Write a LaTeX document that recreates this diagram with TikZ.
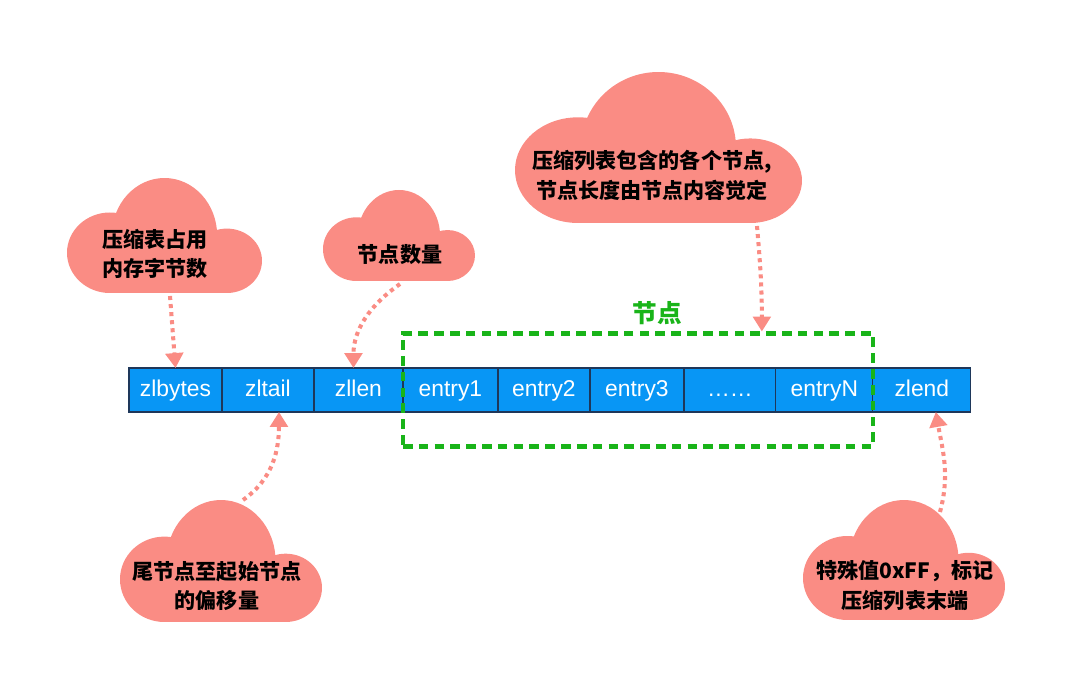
\documentclass[tikz,border=0pt]{standalone}
\usepackage{fontspec}
\setmainfont{Liberation Sans}
\newfontfamily\cjk{Noto Sans CJK SC}
\usetikzlibrary{positioning,fit,arrows.meta}

\definecolor{cellblue}{RGB}{8,150,245}
\definecolor{celledge}{RGB}{30,55,90}
\definecolor{cloudred}{RGB}{250,140,132}
\definecolor{nodegreen}{RGB}{25,180,25}

% cloud blob: lower left corner, width, height
\newcommand{\cloudat}[4]{%
  \begin{scope}[shift={(#1,#2)}, xscale=#3, yscale=#4]
    \fill[cloudred] (0.22,0.35) ellipse [x radius=0.22, y radius=0.35];
    \fill[cloudred] (0.5,0.5) ellipse [x radius=0.27, y radius=0.5];
    \fill[cloudred] (0.82,0.28) ellipse [x radius=0.18, y radius=0.28];
    \fill[cloudred] (0.2,0) rectangle (0.82,0.4);
  \end{scope}}

\begin{document}
\begin{tikzpicture}[x=0.02cm, y=0.02cm,
    cell/.style={draw=celledge, line width=0.7pt, fill=cellblue, text=white,
      font=\fontsize{13}{15}\selectfont, minimum width=#1, minimum height=0.88cm,
      text height=9.5pt, text depth=2.5pt, inner sep=0pt, outer sep=0pt},
    note/.style={align=center, font=\cjk\bfseries\fontsize{12}{17}\selectfont},
    hint/.style={draw=cloudred, line width=2.3pt, dash pattern=on 2.3pt off 2.3pt,
      -{Triangle[width=10pt,length=8.5pt]}}]
    \useasboundingbox (0,0) rectangle (1080,677);

    % clouds
    \cloudat{67}{384}{195}{115}
    \cloudat{323}{396}{152}{91}
    \cloudat{515}{454}{287}{151}
    \cloudat{120}{55}{202}{122}
    \cloudat{803}{57}{202}{120}
    \node[note] (bytesnote) at (155,423) {压缩表占用\\内存字节数};
    \node[note] (lennote) at (400,422) {节点数量};
    \node[note] (entrynote) at (652,502) {压缩列表包含的各个节点,\\节点长度由节点内容觉定};
    \node[note] (tailnote) at (217,91) {尾节点至起始节点\\的偏移量};
    \node[note] (endnote) at (905,91) {特殊值0xFF，标记\\压缩列表末端};

    % the list
    \node[cell=1.86cm, anchor=west] (zlbytes) at (129,287) {zlbytes};
    \node[cell=1.84cm, right=0pt of zlbytes] (zltail) {zltail};
    \node[cell=1.78cm, right=0pt of zltail] (zllen) {zllen};
    \node[cell=1.9cm, right=0pt of zllen] (entry1) {entry1};
    \node[cell=1.84cm, right=0pt of entry1] (entry2) {entry2};
    \node[cell=1.88cm, right=0pt of entry2] (entry3) {entry3};
    \node[cell=1.84cm, right=0pt of entry3] (dots) {……};
    \node[cell=1.94cm, right=0pt of dots] (entryN) {entryN};
    \node[cell=1.96cm, right=0pt of entryN] (zlend) {zlend};

    \node[fit=(entry1)(entryN), inner xsep=0pt, inner ysep=0.69cm, draw=nodegreen,
      line width=2.3pt, dash pattern=on 5.5pt off 3.5pt] (group) {};
    \node[text=nodegreen, font=\cjk\bfseries\fontsize{14}{16}\selectfont] (grouplabel) at (657,364) {节点};

    % pointers
    \coordinate (c1) at (170,381);
    \coordinate (c2) at (400,393);
    \coordinate (c3) at (757,451);
    \coordinate (c4) at (243,177);
    \coordinate (c5) at (940,165);
    \draw[hint] (c1) -- (zlbytes.north);
    \draw[hint] (c2) to[out=215, in=90] ([xshift=-0.1cm]zllen.north);
    \draw[hint] (c3) to[out=-85, in=90] ([xshift=2.48cm]group.north);
    \draw[hint] (c4) to[out=35, in=-90] ([xshift=0.22cm]zltail.south);
    \draw[hint] (c5) to[out=75, in=-80] ([xshift=0.28cm]zlend.south);
\end{tikzpicture}
\end{document}
